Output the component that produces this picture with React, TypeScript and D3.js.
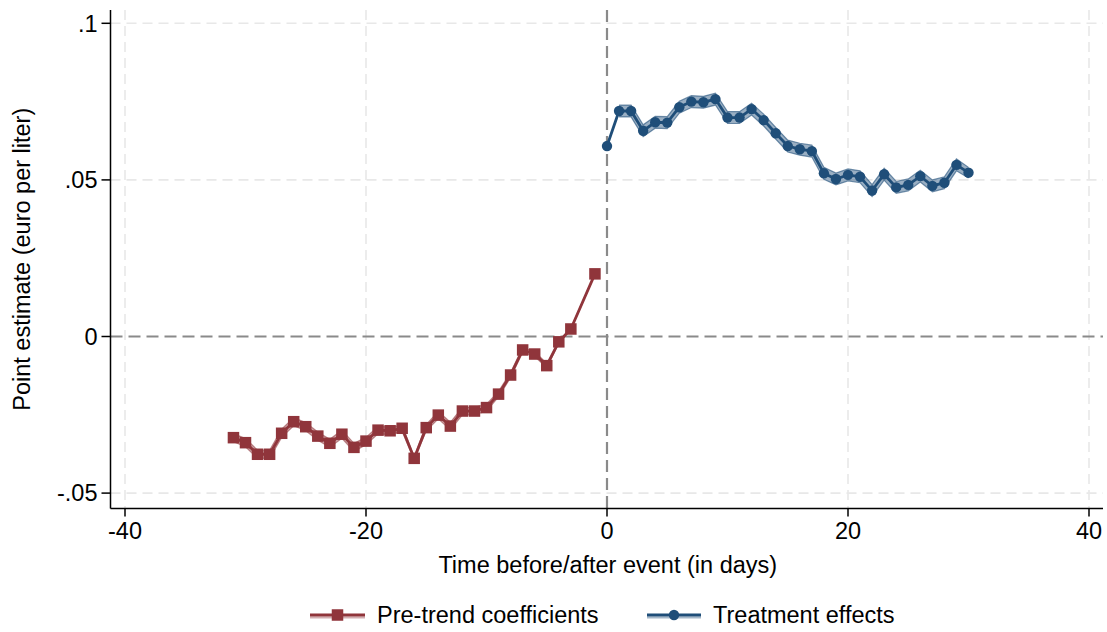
import React from "react";
import * as d3 from "d3";

const preX = [-31, -30, -29, -28, -27, -26, -25, -24, -23, -22, -21, -20, -19, -18, -17, -16, -15, -14, -13, -12, -11, -10, -9, -8, -7, -6, -5, -4, -3, -1];
const preY = [-0.0323, -0.0339, -0.0376, -0.0376, -0.0309, -0.0272, -0.0288, -0.0318, -0.0341, -0.0312, -0.0354, -0.0334, -0.0299, -0.0301, -0.0293, -0.0389, -0.0291, -0.0251, -0.0286, -0.0238, -0.0238, -0.0227, -0.0184, -0.0123, -0.0043, -0.0056, -0.0093, -0.0017, 0.0024, 0.0200];
const preHalf = [0.0013, 0.0013, 0.0013, 0.0013, 0.0013, 0.0013, 0.0013, 0.0013, 0.0013, 0.0013, 0.0013, 0.0012, 0.0012, 0.0012, 0.0010, 0.0004, 0.0010, 0.0012, 0.0012, 0.0012, 0.0012, 0.0011, 0.0009, 0.0008, 0.0008, 0.0008, 0.0007, 0.0004, 0.0002, 0.0];

const trtX = d3.range(0, 31);
const trtY = [0.0608, 0.0720, 0.0720, 0.0657, 0.0684, 0.0683, 0.0732, 0.0750, 0.0748, 0.0758, 0.0699, 0.0699, 0.0726, 0.0691, 0.0649, 0.0608, 0.0598, 0.0592, 0.0521, 0.0503, 0.0516, 0.0510, 0.0466, 0.0518, 0.0476, 0.0484, 0.0512, 0.0481, 0.0491, 0.0548, 0.0523];
const trtHalf = [0, 0.0019, 0.0019, 0.0019, 0.0019, 0.0019, 0.0019, 0.0019, 0.0019, 0.0019, 0.0019, 0.0019, 0.0019, 0.0019, 0.0019, 0.0019, 0.0019, 0.0019, 0.0019, 0.0019, 0.0019, 0.0019, 0.0019, 0.0019, 0.0019, 0.0019, 0.0019, 0.0019, 0.0019, 0.0019, 0.0017];

const xTicks = [-40, -20, 0, 20, 40];
const yTicks = [-0.05, 0, 0.05, 0.1];
const yTickLabels = ["-.05", "0", ".05", ".1"];
const legendLabels = ["Pre-trend coefficients", "Treatment effects"];

const RED = "#90353b";
const BLUE = "#1f4e79";
const FONT = "'Liberation Sans', Arial, sans-serif";
const FS = 23.5;

export default function App() {
  const W = 1107, H = 632;
  const left = 110.5, right = 1103, top = 10, bottom = 508.5;
  const x = d3.scaleLinear().domain([-40, 40]).range([125, 1089]);
  const y = d3.scaleLinear().domain([0, 0.1]).range([336.5, 23.3]);

  type P = { x: number; y: number; h: number };
  const pre: P[] = preX.map((v, i) => ({ x: v, y: preY[i], h: preHalf[i] }));
  const trt: P[] = trtX.map((v, i) => ({ x: v, y: trtY[i], h: trtHalf[i] }));
  const trtBand = trt.filter((d) => d.x >= 1);

  const line = d3.line<P>().x((d) => x(d.x)).y((d) => y(d.y));
  const area = d3.area<P>().x((d) => x(d.x)).y0((d) => y(d.y - d.h)).y1((d) => y(d.y + d.h));
  const upper = d3.line<P>().x((d) => x(d.x)).y((d) => y(d.y + d.h));
  const lower = d3.line<P>().x((d) => x(d.x)).y((d) => y(d.y - d.h));

  const sq = 11.5;
  const rad = 5.2;

  return (
    <svg width={W} height={H} style={{ position: "absolute", left: 0, top: 0, background: "#fff" }} fontFamily={FONT}>
      <rect x={0} y={0} width={W} height={H} fill="#fff" />
      {/* grid */}
      {yTicks.filter((t) => t !== 0).map((t) => (
        <line key={"gy" + t} x1={left} x2={right} y1={y(t)} y2={y(t)} stroke="#e8e8e8" strokeWidth={1.6} strokeDasharray="10 6" />
      ))}
      {xTicks.filter((t) => t !== 0).map((t) => (
        <line key={"gx" + t} x1={x(t)} x2={x(t)} y1={top} y2={bottom} stroke="#e8e8e8" strokeWidth={1.6} strokeDasharray="10 6" />
      ))}
      {/* reference lines */}
      <line x1={left} x2={right} y1={y(0)} y2={y(0)} stroke="#8a8a8a" strokeWidth={2.2} strokeDasharray="12 6" />
      <line x1={x(0)} x2={x(0)} y1={top} y2={bottom} stroke="#8a8a8a" strokeWidth={2.2} strokeDasharray="12 6" />

      {/* bands */}
      <path d={area(pre) ?? ""} fill={RED} fillOpacity={0.45} />
      <path d={upper(pre) ?? ""} fill="none" stroke={RED} strokeOpacity={0.55} strokeWidth={1.2} />
      <path d={lower(pre) ?? ""} fill="none" stroke={RED} strokeOpacity={0.55} strokeWidth={1.2} />
      <path d={area(trtBand) ?? ""} fill={BLUE} fillOpacity={0.45} />
      <path d={upper(trtBand) ?? ""} fill="none" stroke={BLUE} strokeOpacity={0.6} strokeWidth={1.2} />
      <path d={lower(trtBand) ?? ""} fill="none" stroke={BLUE} strokeOpacity={0.6} strokeWidth={1.2} />

      {/* lines */}
      <path d={line(pre) ?? ""} fill="none" stroke={RED} strokeWidth={2.8} />
      <path d={line(trt) ?? ""} fill="none" stroke={BLUE} strokeWidth={2.8} />

      {/* markers */}
      {pre.map((d, i) => (
        <rect key={"m" + i} x={x(d.x) - sq / 2} y={y(d.y) - sq / 2} width={sq} height={sq} fill={RED} />
      ))}
      {trt.map((d, i) => (
        <circle key={"c" + i} cx={x(d.x)} cy={y(d.y)} r={rad} fill={BLUE} />
      ))}

      {/* axes */}
      <line x1={left} x2={left} y1={top} y2={bottom} stroke="#000" strokeWidth={1.5} />
      <line x1={left} x2={right} y1={bottom} y2={bottom} stroke="#000" strokeWidth={1.5} />
      {yTicks.map((t, i) => (
        <g key={"yt" + t}>
          <line x1={left - 9} x2={left} y1={y(t)} y2={y(t)} stroke="#000" strokeWidth={1.5} />
          <text x={left - 13} y={y(t)} dy="0.35em" textAnchor="end" fontSize={FS}>{yTickLabels[i]}</text>
        </g>
      ))}
      {xTicks.map((t) => (
        <g key={"xt" + t}>
          <line x1={x(t)} x2={x(t)} y1={bottom} y2={bottom + 8} stroke="#000" strokeWidth={1.5} />
          <text x={x(t)} y={bottom + 30} textAnchor="middle" fontSize={FS}>{t}</text>
        </g>
      ))}
      <text x={(left + right) / 2 + 1} y={573} textAnchor="middle" fontSize={FS}>Time before/after event (in days)</text>
      <text transform={`translate(30, ${(top + bottom) / 2}) rotate(-90)`} textAnchor="middle" fontSize={FS}>Point estimate (euro per liter)</text>

      {/* legend */}
      <g>
        <line x1={310} x2={365} y1={615} y2={615} stroke={RED} strokeWidth={2.8} />
        <line x1={310} x2={365} y1={617.5} y2={617.5} stroke={RED} strokeOpacity={0.4} strokeWidth={2} />
        <rect x={337.5 - sq / 2} y={615 - sq / 2} width={sq} height={sq} fill={RED} />
        <text x={377} y={623} fontSize={FS}>{legendLabels[0]}</text>
        <line x1={647} x2={701} y1={615} y2={615} stroke={BLUE} strokeWidth={2.8} />
        <line x1={647} x2={701} y1={617.5} y2={617.5} stroke={BLUE} strokeOpacity={0.4} strokeWidth={2} />
        <circle cx={674} cy={615} r={rad} fill={BLUE} />
        <text x={713} y={623} fontSize={FS}>{legendLabels[1]}</text>
      </g>
    </svg>
  );
}
